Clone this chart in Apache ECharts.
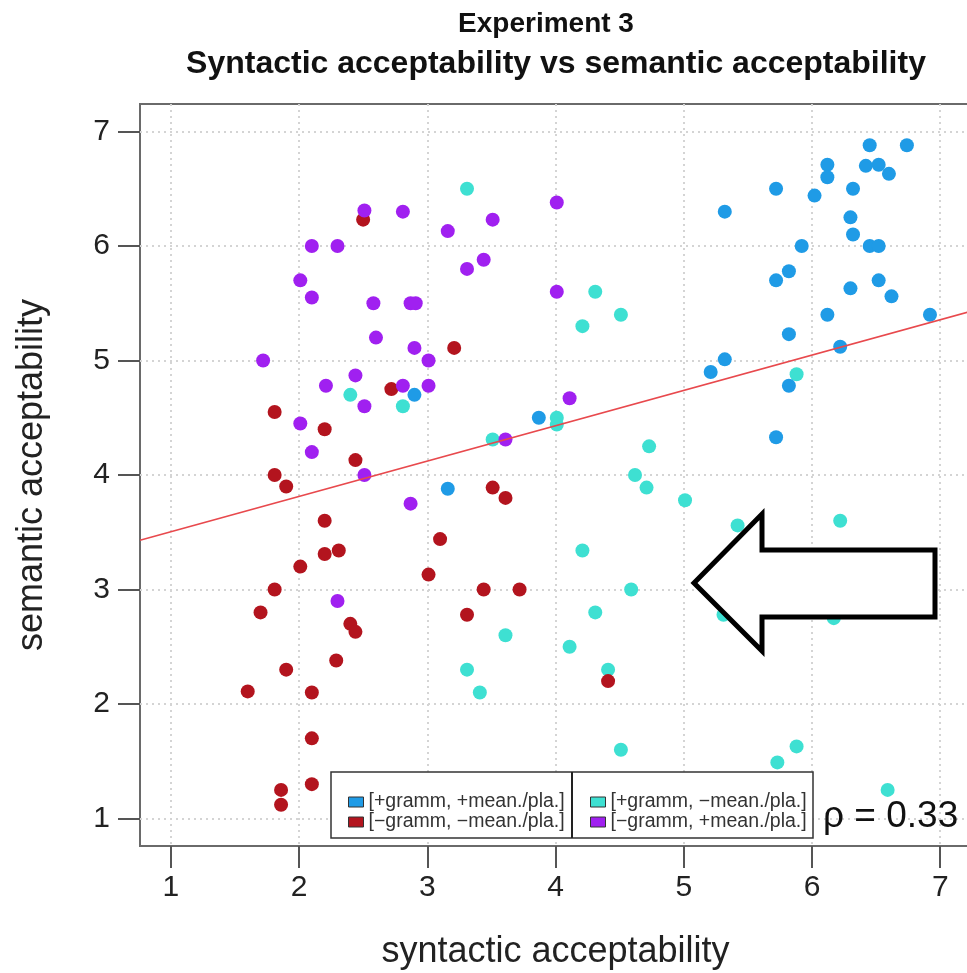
<!DOCTYPE html>
<html><head><meta charset="utf-8">
<script src="https://cdn.jsdelivr.net/npm/echarts@6/dist/echarts.min.js"></script>
<style>html,body{margin:0;padding:0;background:#fff}#c{width:967px;height:973px}</style>
</head><body><div id="c"></div>
<script>
const xTicks = [1, 2, 3, 4, 5, 6, 7];
const yTicks = [1, 2, 3, 4, 5, 6, 7];
const titleLines = ['Experiment 3', 'Syntactic acceptability vs semantic acceptability'];
const xName = 'syntactic acceptability';
const yName = 'semantic acceptability';
const groupNames = ['[+gramm, +mean./pla.]', '[−gramm, −mean./pla.]', '[+gramm, −mean./pla.]', '[−gramm, +mean./pla.]'];
const rhoLabel = 'ρ = 0.33';

// [+gramm, +mean./pla.]
const gramMean = [[6.45,6.88],[6.74,6.88],[6.12,6.71],[6.12,6.60],[6.42,6.70],[6.52,6.71],[6.60,6.63],[5.72,6.50],[6.32,6.50],[6.02,6.44],[5.32,6.30],[6.30,6.25],[6.32,6.10],[5.92,6.00],[6.45,6.00],[6.52,6.00],[5.82,5.78],[5.72,5.70],[6.52,5.70],[6.30,5.63],[6.62,5.56],[6.12,5.40],[6.92,5.40],[5.82,5.23],[6.22,5.12],[5.32,5.01],[5.21,4.90],[5.82,4.78],[5.72,4.33],[2.90,4.70],[3.87,4.50],[3.16,3.88]];
// [-gramm, -mean./pla.]
const ungramUnmean = [[2.50,6.23],[3.21,5.11],[2.72,4.75],[1.81,4.55],[2.20,4.40],[2.44,4.13],[1.81,4.00],[1.90,3.90],[3.51,3.89],[3.61,3.80],[2.20,3.60],[3.10,3.44],[2.31,3.34],[2.20,3.31],[2.01,3.20],[3.01,3.13],[1.81,3.00],[3.44,3.00],[3.72,3.00],[1.70,2.80],[3.31,2.78],[2.40,2.70],[2.44,2.63],[2.29,2.38],[1.90,2.30],[4.41,2.20],[1.60,2.11],[2.10,2.10],[2.10,1.70],[2.10,1.30],[1.86,1.25],[1.86,1.12]];
// [+gramm, -mean./pla.]
const gramUnmean = [[3.31,6.50],[4.31,5.60],[4.51,5.40],[4.21,5.30],[5.88,4.88],[2.40,4.70],[2.81,4.60],[4.01,4.50],[4.01,4.44],[3.51,4.31],[4.73,4.25],[4.62,4.00],[4.71,3.89],[5.01,3.78],[5.42,3.56],[6.22,3.60],[4.21,3.34],[5.52,3.00],[5.61,3.00],[4.59,3.00],[5.31,2.78],[6.17,2.75],[4.31,2.80],[3.61,2.60],[4.11,2.50],[3.31,2.30],[4.41,2.30],[3.41,2.10],[4.51,1.60],[5.88,1.63],[5.73,1.49],[6.59,1.25]];
// [-gramm, +mean./pla.]
const ungramMean = [[2.51,6.31],[2.81,6.30],[4.01,6.38],[3.51,6.23],[3.16,6.13],[2.10,6.00],[2.30,6.00],[3.44,5.88],[3.31,5.80],[2.01,5.70],[2.10,5.55],[2.58,5.50],[2.87,5.50],[2.91,5.50],[4.01,5.60],[2.60,5.20],[2.90,5.11],[3.01,5.00],[1.72,5.00],[2.44,4.87],[2.21,4.78],[2.81,4.78],[3.01,4.78],[2.51,4.60],[4.11,4.67],[2.01,4.45],[3.61,4.31],[2.10,4.20],[2.51,4.00],[2.87,3.75],[2.30,2.90]];
// least-squares fit line endpoints
const fitLine = [[0.76, 3.43], [7.24, 5.43]];

const colors = ['#1f9be6', '#b3141e', '#3ee0d2', '#a020f0'];
const FONT = '"Liberation Sans", Arial, sans-serif';

const chart = echarts.init(document.getElementById('c'), null, {renderer: 'canvas'});

function scatter(name, data, color) {
  return {
    name: name, type: 'scatter', data: data, symbol: 'circle', symbolSize: 14,
    itemStyle: {color: color, opacity: 1}, emphasis: {disabled: true}, z: 3
  };
}

const gridLine = {show: true, lineStyle: {color: '#d4d4d4', width: 2, type: [2, 4]}};

chart.setOption({
  animation: false,
  backgroundColor: '#fff',
  title: [
    {text: titleLines[0], left: 541, top: 5, textAlign: 'center',
     textStyle: {fontFamily: FONT, fontWeight: 'bold', fontSize: 28, color: '#111'}},
    {text: titleLines[1], left: 551, top: 43, textAlign: 'center',
     textStyle: {fontFamily: FONT, fontWeight: 'bold', fontSize: 32, color: '#111'}}
  ],
  grid: {left: 140, top: 104, width: 831, height: 742, show: true, outerBoundsMode: 'none', containLabel: false,
         borderColor: '#6a6a6a', borderWidth: 2, backgroundColor: 'transparent'},
  xAxis: {
    type: 'value', min: 0.76, max: 7.24,
    name: xName, nameLocation: 'middle', nameGap: 88,
    nameTextStyle: {fontFamily: FONT, fontSize: 36, color: '#222'},
    axisLine: {show: false},
    axisTick: {show: true, customValues: xTicks, length: 22, lineStyle: {color: '#555', width: 2}},
    axisLabel: {customValues: xTicks, margin: 27, fontFamily: FONT, fontSize: 30, color: '#222'},
    splitLine: gridLine
  },
  yAxis: {
    type: 'value', min: 0.76, max: 7.24,
    name: yName, nameLocation: 'middle', nameGap: 90, nameRotate: 90,
    nameTextStyle: {fontFamily: FONT, fontSize: 36, color: '#222'},
    axisLine: {show: false},
    axisTick: {show: true, customValues: yTicks, length: 22, lineStyle: {color: '#555', width: 2}},
    axisLabel: {customValues: yTicks, margin: 30, fontFamily: FONT, fontSize: 30, color: '#222'},
    splitLine: gridLine
  },
  legend: [
    {data: [groupNames[0], groupNames[1]], orient: 'vertical', left: 343, top: 787, itemGap: 0, itemWidth: 15, itemHeight: 10,
     icon: 'rect', z: 20, selectedMode: false,
     itemStyle: {borderColor: '#333', borderWidth: 1},
     textStyle: {fontFamily: FONT, fontSize: 19.5, lineHeight: 20, color: '#333'}},
    {data: [groupNames[2], groupNames[3]], orient: 'vertical', left: 585, top: 787, itemGap: 0, itemWidth: 15, itemHeight: 10,
     icon: 'rect', z: 20, selectedMode: false,
     itemStyle: {borderColor: '#333', borderWidth: 1},
     textStyle: {fontFamily: FONT, fontSize: 19.5, lineHeight: 20, color: '#333'}}
  ],
  series: [
    scatter(groupNames[2], gramUnmean, colors[2]),
    scatter(groupNames[1], ungramUnmean, colors[1]),
    scatter(groupNames[0], gramMean, colors[0]),
    scatter(groupNames[3], ungramMean, colors[3]),
    {type: 'line', data: fitLine, symbol: 'none', silent: true, z: 4,
     lineStyle: {color: '#e8494d', width: 1.6}}
  ],
  graphic: [
    {type: 'rect', shape: {x: 331, y: 772, width: 482, height: 66}, z: 10,
     style: {fill: '#fff', stroke: '#333', lineWidth: 1.5}},
    {type: 'line', shape: {x1: 572, y1: 772, x2: 572, y2: 838}, z: 11,
     style: {stroke: '#222', lineWidth: 2}},
    {type: 'text', left: 823, top: 798, z: 12,
     style: {text: rhoLabel, font: '37px ' + FONT, fill: '#111'}},
    {type: 'polygon', z: 12,
     shape: {points: [[694, 583], [762, 514], [762, 550], [935, 550], [935, 617], [762, 617], [762, 651]]},
     style: {fill: '#fff', stroke: '#000', lineWidth: 5, lineJoin: 'miter'}}
  ]
});
</script></body></html>
